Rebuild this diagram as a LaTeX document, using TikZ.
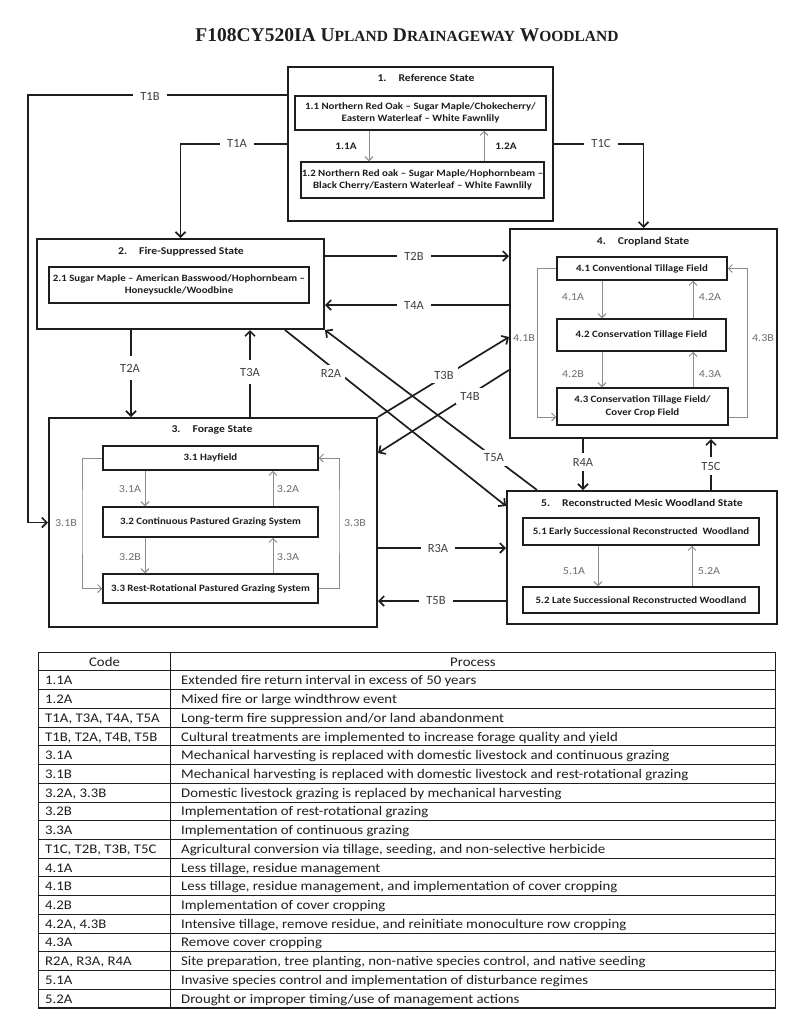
\documentclass[tikz,border=0pt]{standalone}
\usepackage{fontspec}
\setmainfont{Carlito}
\newfontfamily\wfont{Carlito}[FakeStretch=1.12]
\newfontfamily\titlefont{Liberation Serif}
\usetikzlibrary{arrows.meta}
\definecolor{ink}{HTML}{1E1E1E}
\definecolor{innergray}{HTML}{8C8C8C}
\definecolor{lblgray}{HTML}{6E6E6E}
\newcommand\smc[1]{{\fontsize{15.5}{16}\selectfont #1}}
\newcommand\tabrow[3]{%
  \pgfmathsetmacro\ry{671+(#1-0.5)*18.72}%
  \pgfmathsetmacro\rb{671+#1*18.72}%
  \node[ttext] (c#1) at (45,\ry+4.5) {#2};
  \node[ttext] (p#1) at (181,\ry+4.5) {#3};
  \draw[tline] (38,\rb) -- (775,\rb);
}
\tikzset{
  statebox/.style={draw=ink, line width=2pt, inner sep=0pt},
  subbox/.style={draw=ink, line width=1.5pt, inner sep=1pt, align=center,
    font=\wfont\fontsize{9.7}{12.5}\selectfont\bfseries, text=ink},
  stitle/.style={font=\wfont\fontsize{10.4}{12}\selectfont\bfseries, text=ink, inner sep=0pt},
  trans/.style={draw=ink, line width=1.7pt, -{Straight Barb[length=5pt,width=10pt]}},
  tlab/.style={fill=white, font=\fontsize{12.5}{13}\selectfont, text=ink!85, inner xsep=7pt, inner ysep=2pt},
  inarr/.style={draw=innergray, line width=1pt, -{Straight Barb[length=4pt,width=8pt]}},
  ilab/.style={font=\wfont\fontsize{10.7}{12}\selectfont, text=lblgray, inner sep=1pt},
  tline/.style={draw=ink, line width=1pt},
  ttext/.style={font=\wfont\fontsize{13.2}{14}\selectfont, text=ink, inner sep=0pt, anchor=base west},
  thead/.style={font=\wfont\fontsize{13.2}{14}\selectfont, text=ink, inner sep=0pt, anchor=base},
}
\begin{document}
\begin{tikzpicture}[x=1pt,y=-1pt]
\useasboundingbox[fill=white] (0,0) rectangle (800,1026);

% title
\node[inner sep=0pt, font=\titlefont\bfseries\fontsize{19.5}{20}\selectfont, text=ink] (title) at (407,35)
  {F108CY520IA U\smc{PLAND} D\smc{RAINAGEWAY} W\smc{OODLAND}};

% ---------- State 1
\node[statebox, minimum width=265pt, minimum height=154pt] (s1) at (420.5,144) {};
\node[stitle] (s1t) at (426,78) {1.\hspace{12pt}Reference State};
\node[subbox, minimum width=251pt, minimum height=34pt] (r11) at (420.5,113)
  {1.1 Northern Red Oak – Sugar Maple/Chokecherry/\\Eastern Waterleaf – White Fawnlily};
\node[subbox, minimum width=241pt, minimum height=36pt] (r12) at (422.5,180)
  {1.2 Northern Red oak – Sugar Maple/Hophornbeam –\\Black Cherry/Eastern Waterleaf – White Fawnlily};
\coordinate (x11a) at (369,0);
\coordinate (x12a) at (484,0);
\draw[inarr] (r11.south -| x11a) -- (r12.north -| x11a);
\draw[inarr] (r12.north -| x12a) -- (r11.south -| x12a);
\node[ilab, text=ink, font=\wfont\fontsize{10}{12}\selectfont\bfseries] (l11a) at (346,146) {1.1A};
\node[ilab, text=ink, font=\wfont\fontsize{10}{12}\selectfont\bfseries] (l12a) at (506,146) {1.2A};

% ---------- State 2
\node[statebox, minimum width=287pt, minimum height=90pt] (s2) at (180.5,284) {};
\node[stitle] (s2t) at (181,252) {2.\hspace{12pt}Fire-Suppressed State};
\node[subbox, minimum width=260pt, minimum height=36pt] (r21) at (179,285)
  {2.1 Sugar Maple – American Basswood/Hophornbeam –\\Honeysuckle/Woodbine};

% ---------- State 4
\node[statebox, minimum width=267pt, minimum height=209pt] (s4) at (643.5,333.5) {};
\node[stitle] (s4t) at (643,242) {4.\hspace{12pt}Cropland State};
\node[subbox, minimum width=170pt, minimum height=23pt] (r41) at (642,268.5) {4.1 Conventional Tillage Field};
\node[subbox, minimum width=169pt, minimum height=32pt] (r42) at (641.5,335) {4.2 Conservation Tillage Field};
\node[subbox, minimum width=171pt, minimum height=37pt] (r43) at (642.5,406.5) {4.3 Conservation Tillage Field/\\Cover Crop Field};
\coordinate (x4a) at (602,0);
\coordinate (x4b) at (693,0);
\draw[inarr] (r41.south -| x4a) -- (r42.north -| x4a);
\draw[inarr] (r42.north -| x4b) -- (r41.south -| x4b);
\draw[inarr] (r42.south -| x4a) -- (r43.north -| x4a);
\draw[inarr] (r43.north -| x4b) -- (r42.south -| x4b);
\coordinate (x41b) at (537,417);
\coordinate (x43b) at (747,417);
\draw[inarr] (r41.west) -| (x41b) -- (x41b -| r43.west);
\draw[inarr] (x43b -| r43.east) -- (x43b) |- (r41.east);
\node[ilab] (l41a) at (573,297) {4.1A};
\node[ilab] (l42a) at (710,297) {4.2A};
\node[ilab] (l42b) at (573,374) {4.2B};
\node[ilab] (l43a) at (710,374) {4.3A};
\node[ilab] (l41b) at (524,338) {4.1B};
\node[ilab] (l43b) at (763,338) {4.3B};

% ---------- State 3
\node[statebox, minimum width=328pt, minimum height=209pt] (s3) at (213,522.5) {};
\node[stitle] (s3t) at (212,430) {3.\hspace{12pt}Forage State};
\node[subbox, minimum width=215pt, minimum height=24pt] (r31) at (210.5,458) {3.1 Hayfield};
\node[subbox, minimum width=215pt, minimum height=30pt] (r32) at (210.5,522) {3.2 Continuous Pastured Grazing System};
\node[subbox, minimum width=215pt, minimum height=29pt] (r33) at (210.5,588.5) {3.3 Rest-Rotational Pastured Grazing System};
\coordinate (x3a) at (145,0);
\coordinate (x3b) at (273,0);
\draw[inarr] (r31.south -| x3a) -- (r32.north -| x3a);
\draw[inarr] (r32.north -| x3b) -- (r31.south -| x3b);
\draw[inarr] (r32.south -| x3a) -- (r33.north -| x3a);
\draw[inarr] (r33.north -| x3b) -- (r32.south -| x3b);
\coordinate (x31b) at (82,520);
\coordinate (x33b) at (339,520);
\draw[inarr] (r31.west) -| (x31b) |- (r33.west);
\draw[inarr] (r33.east) -| (x33b) |- (r31.east);
\node[ilab] (l31a) at (130,489) {3.1A};
\node[ilab] (l32a) at (288,489) {3.2A};
\node[ilab] (l32b) at (130,557) {3.2B};
\node[ilab] (l33a) at (288,557) {3.3A};
\node[ilab] (l31b) at (66,523) {3.1B};
\node[ilab] (l33b) at (355,523) {3.3B};

% ---------- State 5
\node[statebox, minimum width=270pt, minimum height=133pt] (s5) at (642,557.5) {};
\node[stitle] (s5t) at (642,503) {5.\hspace{12pt}Reconstructed Mesic Woodland State};
\node[subbox, minimum width=236pt, minimum height=27pt] (r51) at (641,531.5) {5.1 Early Successional Reconstructed\ \ Woodland};
\node[subbox, minimum width=236pt, minimum height=26pt] (r52) at (641,600) {5.2 Late Successional Reconstructed Woodland};
\coordinate (x5a) at (598,0);
\coordinate (x5b) at (692,0);
\draw[inarr] (r51.south -| x5a) -- (r52.north -| x5a);
\draw[inarr] (r52.north -| x5b) -- (r51.south -| x5b);
\node[ilab] (l51a) at (574,571) {5.1A};
\node[ilab] (l52a) at (709,571) {5.2A};

% ---------- transitions
\coordinate (x1b) at (28,300);
\draw[trans] (s1.west |- r11.north) -| (x1b) |- (s3.west);
\draw[trans] (s1.west) -| (s2.north);
\draw[trans] (s1.east) -| (s4.north);
\coordinate (t2bs) at ([yshift=28pt]s2.east);
\coordinate (t4as) at ([yshift=-21pt]s2.east);
\draw[trans] (t2bs) -- (t2bs -| s4.west);
\draw[trans] (t4as -| s4.west) -- (t4as);
\coordinate (t2a) at ([xshift=-49.5pt]s2.south);
\coordinate (t3a) at ([xshift=69.5pt]s2.south);
\draw[trans] (t2a) -- (t2a |- s3.north);
\draw[trans] (t3a |- s3.north) -- (t3a);
\draw[trans] ([xshift=104.5pt]s2.south) -- ([yshift=51.5pt]s5.west);
\draw[trans] ([xshift=-105pt]s5.north) -- (s2.south east);
\draw[trans] (s3.north east) -- ([yshift=-3.5pt]s4.west);
\draw[trans] ([yshift=-36.5pt]s4.west) -- ([yshift=69.5pt]s3.east);
\coordinate (r3a) at ([yshift=-25.5pt]s3.east);
\coordinate (t5b) at ([yshift=-78.5pt]s3.east);
\draw[trans] (r3a) -- (r3a -| s5.west);
\draw[trans] (t5b -| s5.west) -- (t5b);
\coordinate (r4a) at ([xshift=-60.5pt]s4.south);
\coordinate (t5c) at ([xshift=67.5pt]s4.south);
\draw[trans] (r4a) -- (r4a |- s5.north);
\draw[trans] (t5c |- s5.north) -- (t5c);

% transition labels
\node[tlab] (lt1b) at (150,96) {T1B};
\node[tlab] (lt1a) at (237,143) {T1A};
\node[tlab] (lt1c) at (601,143) {T1C};
\node[tlab] (lt2b) at (414,256) {T2B};
\node[tlab] (lt4a) at (414,305) {T4A};
\node[tlab, inner xsep=2pt, inner ysep=8pt] (lt2a) at (130,368) {T2A};
\node[tlab, inner xsep=2pt, inner ysep=8pt] (lt3a) at (250,372) {T3A};
\node[tlab, inner sep=4pt] (lr2a) at (331,373) {R2A};
\node[tlab, inner sep=4pt] (lt3b) at (444,375) {T3B};
\node[tlab, inner sep=4pt] (lt4b) at (470,396) {T4B};
\node[tlab, inner sep=4pt] (lt5a) at (494,458) {T5A};
\node[tlab, inner xsep=2pt, inner ysep=5pt] (lr4a) at (583,462) {R4A};
\node[tlab, inner xsep=2pt, inner ysep=5pt] (lt5c) at (711,466) {T5C};
\node[tlab] (lr3a) at (438,548) {R3A};
\node[tlab] (lt5b) at (436,601) {T5B};

% ---------- table
\node[draw=ink, line width=1pt, minimum width=737pt, minimum height=356pt, inner sep=0pt] (tbl) at (406.5,830) {};
\draw[tline] (tbl.north west) ++(0,19) coordinate (hl) -- (hl -| tbl.east);
\draw[tline] (tbl.north west) ++(133,0) coordinate (vl) -- (vl |- tbl.south);
\node[thead] (hcode) at (104.5,666) {Code};
\node[thead] (hproc) at (473,666) {Process};
\tabrow{1}{1.1A}{Extended fire return interval in excess of 50 years}
\tabrow{2}{1.2A}{Mixed fire or large windthrow event}
\tabrow{3}{T1A, T3A, T4A, T5A}{Long-term fire suppression and/or land abandonment}
\tabrow{4}{T1B, T2A, T4B, T5B}{Cultural treatments are implemented to increase forage quality and yield}
\tabrow{5}{3.1A}{Mechanical harvesting is replaced with domestic livestock and continuous grazing}
\tabrow{6}{3.1B}{Mechanical harvesting is replaced with domestic livestock and rest-rotational grazing}
\tabrow{7}{3.2A, 3.3B}{Domestic livestock grazing is replaced by mechanical harvesting}
\tabrow{8}{3.2B}{Implementation of rest-rotational grazing}
\tabrow{9}{3.3A}{Implementation of continuous grazing}
\tabrow{10}{T1C, T2B, T3B, T5C}{Agricultural conversion via tillage, seeding, and non-selective herbicide}
\tabrow{11}{4.1A}{Less tillage, residue management}
\tabrow{12}{4.1B}{Less tillage, residue management, and implementation of cover cropping}
\tabrow{13}{4.2B}{Implementation of cover cropping}
\tabrow{14}{4.2A, 4.3B}{Intensive tillage, remove residue, and reinitiate monoculture row cropping}
\tabrow{15}{4.3A}{Remove cover cropping}
\tabrow{16}{R2A, R3A, R4A}{Site preparation, tree planting, non-native species control, and native seeding}
\tabrow{17}{5.1A}{Invasive species control and implementation of disturbance regimes}
\tabrow{18}{5.2A}{Drought or improper timing/use of management actions}
\end{tikzpicture}
\end{document}
